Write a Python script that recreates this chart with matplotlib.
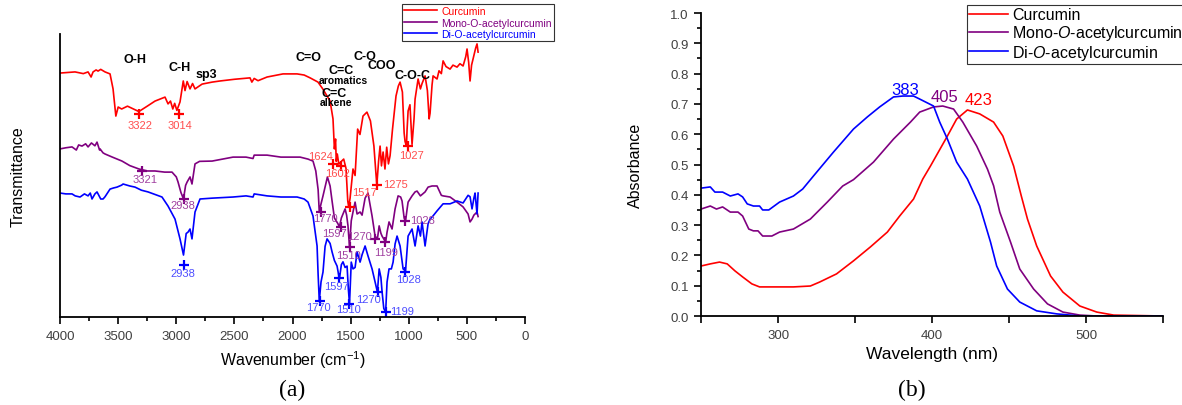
import matplotlib.pyplot as plt
from matplotlib.ticker import MultipleLocator

plt.rcParams['font.family'] = ['Liberation Sans', 'DejaVu Sans']
plt.rcParams['mathtext.fontset'] = 'custom'
plt.rcParams['mathtext.rm'] = 'Liberation Sans'
plt.rcParams['mathtext.it'] = 'Liberation Sans:italic'

# ---- (a) FTIR spectra, wavenumber (cm-1) / transmittance (a.u.)
cur_wn = [4000, 3871, 3800, 3759, 3733, 3716, 3690, 3673, 3650, 3613, 3570, 3544, 3520, 3500,
          3470, 3420, 3322, 3250, 3183, 3097, 3071, 3050, 3030, 3014, 2995, 2968, 2940, 2925,
          2907, 2882, 2860, 2839, 2778, 2692, 2624, 2500, 2366, 2350, 2330, 2297, 2219, 2082,
          1961, 1900, 1849, 1781, 1740, 1677, 1652, 1640, 1630, 1624, 1615, 1602, 1580, 1560,
          1540, 1525, 1517, 1505, 1480, 1462, 1440, 1420, 1394, 1360, 1330, 1300, 1285, 1275,
          1260, 1247, 1235, 1221, 1205, 1190, 1175, 1161, 1140, 1110, 1090, 1075, 1055, 1040,
          1032, 1020, 1015, 1006, 990, 972, 955, 946, 920, 900, 886, 860, 840, 825, 817, 800,
          791, 757, 740, 720, 705, 680, 645, 620, 585, 560, 533, 510, 499, 485, 473, 460, 447,
          425, 413, 404]
cur_t = [86.2, 86.6, 86.0, 86.6, 84.8, 86.6, 87.3, 86.9, 87.5, 86.6, 85.9, 80.6, 71.0, 74.2,
         73.5, 74.5, 72.6, 74.5, 76.3, 77.7, 75.3, 76.3, 73.5, 75.5, 73.0, 76.0, 83.4, 80.0,
         83.2, 80.6, 82.5, 80.6, 82.3, 83.0, 83.4, 84.0, 84.5, 83.0, 84.3, 83.5, 84.8, 85.9,
         85.9, 85.5, 84.5, 83.0, 80.6, 76.3, 70.0, 59.4, 62.9, 55.0, 57.6, 54.0, 55.0, 55.8,
         52.5, 41.0, 38.9, 42.0, 52.3, 50.0, 66.4, 64.5, 71.0, 72.4, 69.3, 60.4, 52.0, 46.6,
         55.0, 60.4, 53.4, 58.3, 52.3, 60.0, 54.1, 57.0, 66.4, 78.1, 81.6, 83.0, 79.5, 65.0,
         62.0, 60.4, 66.0, 72.8, 75.0, 61.0, 70.0, 77.0, 84.1, 80.6, 82.5, 85.2, 80.0, 70.0,
         72.0, 82.0, 85.2, 84.1, 87.0, 86.0, 90.5, 88.5, 87.6, 89.0, 88.3, 89.5, 88.7, 92.0,
         94.7, 90.0, 83.4, 89.0, 91.2, 95.0, 96.5, 93.6]

mono_wn = [4000, 3950, 3897, 3860, 3840, 3811, 3780, 3759, 3730, 3700, 3682, 3660, 3656, 3630,
           3613, 3550, 3467, 3400, 3321, 3250, 3183, 3100, 3037, 3000, 2985, 2960, 2938, 2920,
           2907, 2882, 2865, 2839, 2800, 2692, 2512, 2400, 2340, 2330, 2219, 2100, 1935, 1867,
           1824, 1800, 1780, 1770, 1755, 1738, 1700, 1677, 1660, 1640, 1610, 1597, 1580, 1548,
           1535, 1523, 1510, 1495, 1480, 1462, 1445, 1419, 1402, 1376, 1351, 1316, 1290, 1270,
           1255, 1240, 1230, 1199, 1187, 1170, 1144, 1118, 1092, 1070, 1058, 1040, 1028, 1015,
           1006, 972, 946, 929, 900, 860, 834, 800, 757, 720, 705, 645, 585, 533, 490, 473, 456,
           440, 413, 404]
mono_t = [59.4, 59.8, 60.1, 59.0, 60.8, 60.4, 61.2, 60.1, 61.5, 60.5, 61.8, 59.0, 59.4, 58.0,
          57.6, 56.5, 55.1, 53.5, 52.3, 51.6, 51.6, 51.2, 51.2, 49.5, 47.7, 44.0, 41.7, 46.5,
          47.7, 49.5, 47.0, 54.1, 55.0, 55.1, 56.5, 56.5, 56.0, 57.2, 57.2, 56.5, 56.5, 55.8,
          55.1, 51.6, 45.0, 37.1, 40.0, 42.8, 49.5, 46.3, 41.0, 35.0, 33.0, 31.8, 35.0, 38.2,
          36.0, 32.2, 24.7, 34.0, 37.1, 40.6, 36.4, 37.1, 36.0, 42.0, 43.8, 35.7, 28.6, 27.6,
          32.2, 29.6, 28.6, 26.5, 30.0, 33.6, 31.1, 38.2, 42.8, 42.4, 41.0, 35.0, 33.9, 38.0,
          40.6, 42.8, 44.2, 44.5, 42.8, 44.2, 45.9, 46.3, 46.3, 43.0, 42.8, 42.4, 40.6, 38.9,
          36.4, 33.6, 34.6, 36.0, 37.1, 35.5]

di_wn = [4000, 3950, 3897, 3870, 3828, 3790, 3759, 3740, 3725, 3700, 3682, 3650, 3630, 3613,
         3570, 3540, 3510, 3470, 3458, 3400, 3355, 3300, 3243, 3183, 3123, 3071, 3011, 2968,
         2938, 2915, 2899, 2882, 2865, 2839, 2796, 2692, 2512, 2400, 2340, 2330, 2219, 2100,
         1961, 1900, 1867, 1824, 1789, 1780, 1770, 1755, 1738, 1720, 1703, 1677, 1660, 1640,
         1617, 1597, 1580, 1566, 1548, 1531, 1520, 1510, 1495, 1480, 1462, 1445, 1419, 1402,
         1376, 1351, 1316, 1290, 1270, 1255, 1240, 1230, 1215, 1199, 1187, 1170, 1150, 1135,
         1118, 1101, 1075, 1049, 1028, 1006, 972, 946, 920, 900, 886, 860, 834, 817, 790, 757,
         705, 645, 585, 533, 490, 473, 456, 440, 430, 413, 404]
di_t = [43.8, 43.5, 43.5, 42.8, 42.4, 43.5, 42.8, 43.8, 41.7, 43.5, 44.2, 41.7, 41.7, 42.5,
        45.2, 45.6, 45.9, 46.6, 47.0, 46.3, 45.9, 44.8, 44.2, 43.3, 42.4, 39.2, 34.6, 27.6,
        21.9, 29.5, 30.0, 31.1, 27.6, 37.1, 41.7, 42.0, 42.4, 42.8, 42.4, 43.5, 42.8, 42.4,
        42.4, 41.7, 40.6, 35.7, 25.1, 15.0, 5.7, 12.4, 15.9, 25.0, 27.6, 26.0, 23.0, 20.0,
        18.0, 13.4, 18.5, 19.5, 17.5, 18.0, 10.0, 4.6, 19.4, 17.0, 17.5, 23.0, 19.4, 22.0,
        25.1, 21.6, 17.0, 12.4, 8.8, 17.0, 14.0, 9.0, 3.0, 1.8, 12.4, 17.0, 17.0, 19.4,
        25.8, 28.6, 25.1, 17.0, 16.3, 28.6, 31.1, 25.1, 32.2, 28.6, 33.6, 25.1, 33.0, 34.6,
        35.8, 37.5, 40.0, 40.0, 41.0, 40.3, 43.0, 42.5, 38.2, 42.0, 43.8, 36.4, 43.8]

# peak markers: (marker wn, marker T, label, label wn, label T, align)
cur_peaks = [(3322, 71.7, '3322', 3312, 67.8, 'center'), (2976, 71.7, '3014', 2968, 67.8, 'center'),
             (1652, 54.1, '1624', 1652, 56.9, 'right'), (1583, 53.4, '1602', 1617, 50.9, 'center'),
             (1505, 38.9, '1517', 1488, 44.2, 'left'), (1273, 46.6, '1275', 1221, 47.0, 'left'),
             (1006, 60.4, '1027', 981, 57.2, 'center')]
mono_peaks = [(3295, 51.6, '3321', 3269, 48.8, 'center'), (2933, 41.7, '2938', 2942, 39.6, 'center'),
              (1755, 37.1, '1770', 1720, 35.0, 'center'), (1583, 31.8, '1597', 1643, 29.7, 'center'),
              (1505, 24.7, '1510', 1523, 21.9, 'center'), (1290, 27.6, '1270', 1316, 28.6, 'right'),
              (1204, 26.5, '1199', 1196, 23.0, 'center'), (1032, 33.9, '1028', 989, 34.3, 'left')]
di_peaks = [(2933, 18.4, '2938', 2942, 15.5, 'center'), (1763, 5.7, '1770', 1781, 3.5, 'center'),
            (1600, 13.8, '1597', 1626, 11.0, 'center'), (1514, 4.6, '1510', 1523, 2.8, 'center'),
            (1265, 8.8, '1270', 1351, 6.4, 'center'), (1196, 1.8, '1199', 1161, 2.1, 'left'),
            (1032, 15.9, '1028', 998, 13.4, 'center')]

groups = [('O-H', 3355, 91.2, 9), ('C-H', 2968, 88.3, 9), ('sp3', 2744, 85.9, 9),
          ('C=O', 1867, 91.9, 9), ('C=C', 1583, 87.3, 9), ('aromatics', 1566, 83.7, 7.5),
          ('C=C', 1643, 79.2, 9), ('alkene', 1626, 76.0, 7.5), ('C-O', 1376, 92.2, 9),
          ('COO', 1230, 89.0, 9), ('C-O-C', 972, 85.5, 9)]

# ---- (b) UV-Vis spectra, wavelength (nm) / absorbance
uv_cur_wl = [250, 256, 262, 267, 272, 277, 283, 288, 299, 310, 321, 327, 338, 349, 360, 371,
             379, 388, 394, 399, 410, 416, 423, 431, 440, 446, 453, 458, 462, 468, 477, 485,
             496, 507, 518, 550]
uv_cur_a = [0.165, 0.172, 0.178, 0.172, 0.149, 0.129, 0.106, 0.096, 0.096, 0.096, 0.099, 0.112,
            0.139, 0.182, 0.228, 0.277, 0.330, 0.386, 0.452, 0.495, 0.594, 0.650, 0.680, 0.667,
            0.640, 0.594, 0.495, 0.396, 0.320, 0.231, 0.132, 0.079, 0.033, 0.013, 0.003, 0.0]
uv_mono_wl = [250, 256, 260, 264, 269, 274, 277, 281, 284, 287, 290, 296, 301, 310, 321, 332,
              342, 349, 362, 375, 386, 392, 401, 407, 414, 420, 429, 436, 440, 444, 451, 457,
              466, 475, 485, 496, 507, 550]
uv_mono_a = [0.353, 0.363, 0.353, 0.360, 0.343, 0.343, 0.330, 0.287, 0.281, 0.281, 0.264, 0.264,
             0.277, 0.287, 0.320, 0.376, 0.429, 0.450, 0.508, 0.584, 0.640, 0.673, 0.690, 0.693,
             0.683, 0.640, 0.561, 0.485, 0.430, 0.343, 0.244, 0.155, 0.089, 0.040, 0.013, 0.003,
             0.0, 0.0]
uv_di_wl = [250, 256, 259, 264, 269, 274, 277, 280, 284, 288, 290, 294, 301, 310, 316, 323,
            336, 349, 358, 366, 375, 381, 388, 392, 401, 405, 410, 416, 423, 431, 438, 442, 449,
            457, 468, 481, 496, 550]
uv_di_a = [0.422, 0.426, 0.409, 0.409, 0.396, 0.403, 0.393, 0.370, 0.363, 0.363, 0.350, 0.350,
           0.376, 0.396, 0.419, 0.462, 0.541, 0.617, 0.657, 0.690, 0.723, 0.726, 0.726, 0.716,
           0.693, 0.640, 0.584, 0.508, 0.452, 0.363, 0.244, 0.165, 0.089, 0.046, 0.017, 0.007,
           0.0, 0.0]
uv_peaks = [('383', 382.5, 0.749), ('405', 408.4, 0.726), ('423', 430.0, 0.716)]

names = ['Curcumin', 'Mono-O-acetylcurcumin', 'Di-O-acetylcurcumin']
names_it = ['Curcumin', 'Mono-$\\mathit{O}$-acetylcurcumin', 'Di-$\\mathit{O}$-acetylcurcumin']
line_cols = ['#ff0000', '#800080', '#0000ff']
text_cols = ['#ff4d4d', '#a040a0', '#4d4dff']

fig = plt.figure(figsize=(11.82, 4.06), dpi=100)
ax1 = fig.add_axes([0.0508, 0.2167, 0.3934, 0.6971])
ax2 = fig.add_axes([0.5931, 0.2192, 0.3908, 0.7463])

# ---------- panel a
for wn, t, nm, c in zip([cur_wn, mono_wn, di_wn], [cur_t, mono_t, di_t], names, line_cols):
    ax1.plot(wn, t, color=c, lw=1.2, label=nm)
for peaks, lc, tc in zip([cur_peaks, mono_peaks, di_peaks], line_cols, text_cols):
    for mx, my, lab, tx, ty, ha in peaks:
        ax1.plot(mx, my, marker='+', color=lc, ms=7, mew=1.6)
        ax1.text(tx, ty, lab, color=tc, fontsize=8, ha=ha, va='center')
for lab, x, y, fs in groups:
    ax1.text(x, y, lab, fontsize=fs, fontweight='bold', ha='center', va='center')

ax1.set_xlim(4000, 0)
ax1.set_ylim(0, 100)
ax1.set_yticks([])
ax1.xaxis.set_major_locator(MultipleLocator(500))
ax1.xaxis.set_minor_locator(MultipleLocator(250))
ax1.tick_params(axis='x', which='major', length=5, width=1.2, labelsize=9.5,
                labelcolor='#404040', pad=4)
ax1.tick_params(axis='x', which='minor', length=3, width=1.2)
for s in ['top', 'right']:
    ax1.spines[s].set_visible(False)
for s in ['left', 'bottom']:
    ax1.spines[s].set_linewidth(1.3)
ax1.set_xlabel('Wavenumber (cm$^{-1}$)', fontsize=11.5)
ax1.xaxis.set_label_coords(0.5, -0.11)
ax1.set_ylabel('Transmittance', fontsize=11.5)
ax1.yaxis.set_label_coords(-0.075, 0.5)
leg1 = ax1.legend(loc='upper left', bbox_to_anchor=(0.340, 0.988), bbox_transform=fig.transFigure,
                  fontsize=7.5, handlelength=3.2, labelspacing=0.15, borderpad=0.2,
                  handletextpad=0.4, borderaxespad=0, fancybox=False, framealpha=1,
                  edgecolor='#333333', labelcolor='linecolor')
leg1.get_frame().set_linewidth(0.8)

# ---------- panel b
for wl, a, nm, c in zip([uv_cur_wl, uv_mono_wl, uv_di_wl], [uv_cur_a, uv_mono_a, uv_di_a],
                        names_it, line_cols):
    ax2.plot(wl, a, color=c, lw=1.2, label=nm)
for (lab, x, y), c in zip(uv_peaks, ['#0000ff', '#800080', '#ff0000']):
    ax2.text(x, y, lab, color=c, fontsize=12, ha='center', va='center')

ax2.set_xlim(250, 550)
ax2.set_ylim(0, 1.0)
ax2.set_xticks([300, 400, 500])
ax2.xaxis.set_minor_locator(MultipleLocator(50))
ax2.yaxis.set_major_locator(MultipleLocator(0.1))
ax2.yaxis.set_minor_locator(MultipleLocator(0.05))
ax2.set_yticklabels(['%.1f' % v for v in ax2.get_yticks()])
ax2.tick_params(which='major', length=5, width=1.2, labelsize=9.5, labelcolor='#404040', pad=4)
ax2.tick_params(axis='x', which='minor', length=5, width=1.2)
ax2.tick_params(axis='y', which='minor', length=3, width=1.2)
for s in ['top', 'right']:
    ax2.spines[s].set_visible(False)
for s in ['left', 'bottom']:
    ax2.spines[s].set_linewidth(1.3)
ax2.set_xlabel('Wavelength (nm)', fontsize=12.5)
ax2.xaxis.set_label_coords(0.5, -0.1)
ax2.set_ylabel('Absorbance', fontsize=11.5)
ax2.yaxis.set_label_coords(-0.126, 0.5)
leg2 = ax2.legend(loc='upper left', bbox_to_anchor=(0.818, 0.985), bbox_transform=fig.transFigure,
                  fontsize=11.5, handlelength=2.4, labelspacing=0.05, borderpad=0.15,
                  handletextpad=0.3, borderaxespad=0, fancybox=False, framealpha=1,
                  edgecolor='#333333')
leg2.get_frame().set_linewidth(0.8)

fig.text(292 / 1182, 1 - 390 / 406, '(a)', fontsize=17, family='Liberation Serif',
         ha='center', va='center')
fig.text(912 / 1182, 1 - 390 / 406, '(b)', fontsize=17, family='Liberation Serif',
         ha='center', va='center')

fig.savefig('out.png', dpi=100)
